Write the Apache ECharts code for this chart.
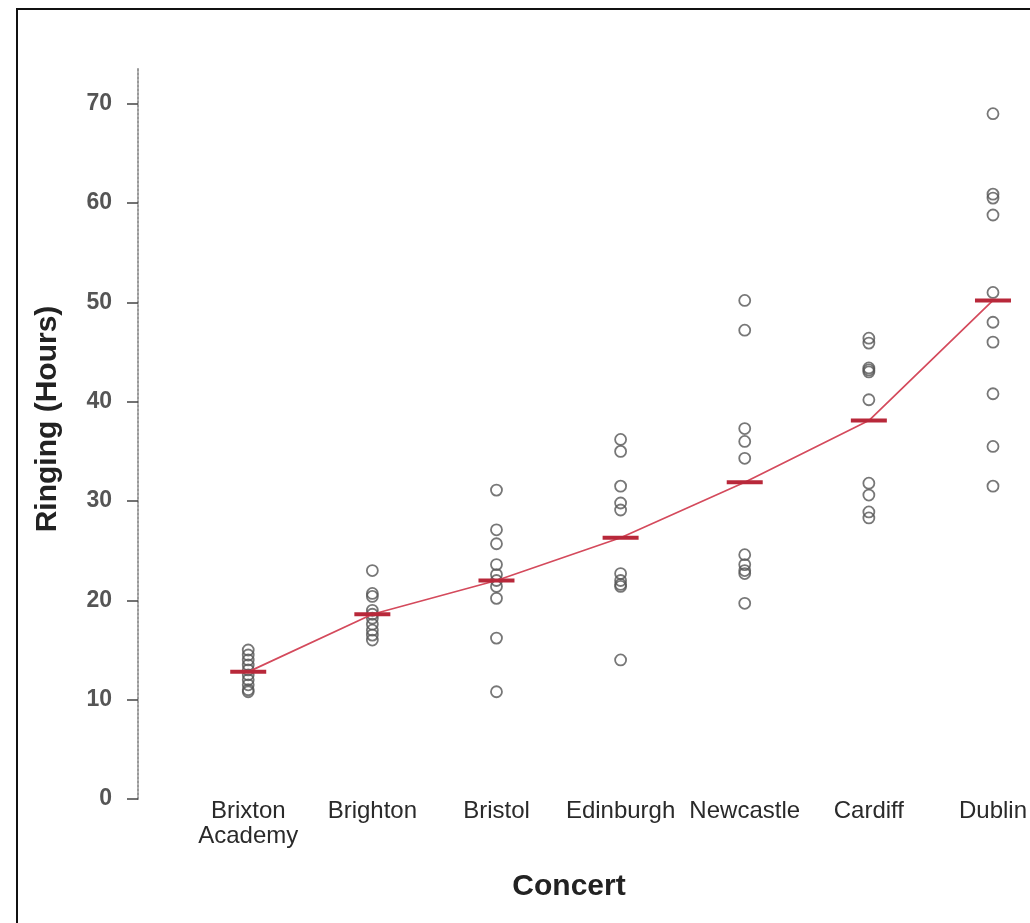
<!DOCTYPE html>
<html>
<head>
<meta charset="utf-8">
<script src="https://cdn.jsdelivr.net/npm/echarts@6/dist/echarts.min.js"></script>
<style>
html,body{margin:0;padding:0;background:#fff;}
#chart{width:1030px;height:923px;}
</style>
</head>
<body>
<div id="chart"></div>
<script>
const categories = ['Brixton\nAcademy', 'Brighton', 'Bristol', 'Edinburgh', 'Newcastle', 'Cardiff', 'Dublin'];
const brixton   = [15.0, 14.5, 14.0, 13.5, 13.0, 12.5, 12.0, 11.5, 11.0, 10.8];
const brighton  = [23.0, 20.7, 20.4, 19.0, 18.6, 18.2, 17.6, 17.0, 16.5, 16.0];
const bristol   = [31.1, 27.1, 25.7, 23.6, 22.6, 22.0, 21.4, 20.2, 16.2, 10.8];
const edinburgh = [36.2, 35.0, 31.5, 29.8, 29.1, 22.7, 22.0, 21.6, 21.4, 14.0];
const newcastle = [50.2, 47.2, 37.3, 36.0, 34.3, 24.6, 23.6, 23.0, 22.7, 19.7];
const cardiff   = [46.4, 45.9, 43.4, 43.2, 43.0, 40.2, 31.8, 30.6, 28.9, 28.3];
const dublin    = [69.0, 60.9, 60.5, 58.8, 51.0, 48.0, 46.0, 40.8, 35.5, 31.5];
const means     = [12.8, 18.6, 22.0, 26.3, 31.9, 38.1, 50.2];
const yTicks    = [0, 10, 20, 30, 40, 50, 60, 70];
const xTitle = 'Concert';
const yTitle = 'Ringing (Hours)';

const groups = [brixton, brighton, bristol, edinburgh, newcastle, cardiff, dublin];
const points = [];
groups.forEach((g, i) => g.forEach(v => points.push([i, v])));
const meanPoints = means.map((m, i) => [i, m]);
const catIdx = categories.map((c, i) => i);

const chart = echarts.init(document.getElementById('chart'), null, {renderer: 'canvas'});
chart.setOption({
  backgroundColor: '#fff',
  animation: false,
  grid: {left: 138, right: 0, top: 68, bottom: 124},
  xAxis: {
    type: 'value',
    min: -0.888,
    max: 6.282,
    axisLine: {show: false, onZero: false},
    axisTick: {show: false},
    splitLine: {show: false},
    axisLabel: {
      customValues: catIdx,
      formatter: v => categories[Math.round(v)] || '',
      margin: 0,
      fontFamily: 'Liberation Sans',
      fontSize: 24,
      lineHeight: 25,
      color: '#2a2a2a',
      hideOverlap: false
    }
  },
  yAxis: {
    type: 'value',
    min: 0,
    max: 73.6,
    axisLine: {show: true, onZero: false, lineStyle: {type: [2, 2], color: '#999', width: 2}},
    axisTick: {show: true, length: 11, customValues: yTicks, lineStyle: {color: '#444', width: 1.5}},
    splitLine: {show: false},
    axisLabel: {
      customValues: yTicks,
      margin: 26,
      fontFamily: 'Liberation Sans',
      fontWeight: 'bold',
      fontSize: 23,
      color: '#555'
    }
  },
  graphic: [
    {type: 'rect', shape: {x: 17, y: 9, width: 1200, height: 1100}, style: {fill: 'none', stroke: '#111', lineWidth: 2}, silent: true},
    {type: 'text', x: 569, y: 887, style: {text: xTitle, font: 'bold 30px "Liberation Sans"', fill: '#222', textAlign: 'center', textVerticalAlign: 'middle'}},
    {type: 'text', x: 48, y: 419, rotation: Math.PI / 2, style: {text: yTitle, font: 'bold 30px "Liberation Sans"', fill: '#222', textAlign: 'center', textVerticalAlign: 'middle'}}
  ],
  series: [
    {
      type: 'scatter',
      data: points,
      symbol: 'circle',
      symbolSize: 11,
      itemStyle: {color: 'rgba(0,0,0,0)', borderColor: '#555', borderWidth: 1.8},
      z: 2
    },
    {
      type: 'line',
      data: meanPoints,
      symbol: 'rect',
      symbolSize: [36, 4],
      itemStyle: {color: '#b8283a'},
      lineStyle: {color: '#d44a5c', width: 1.7},
      z: 3
    }
  ]
});
</script>
</body>
</html>
